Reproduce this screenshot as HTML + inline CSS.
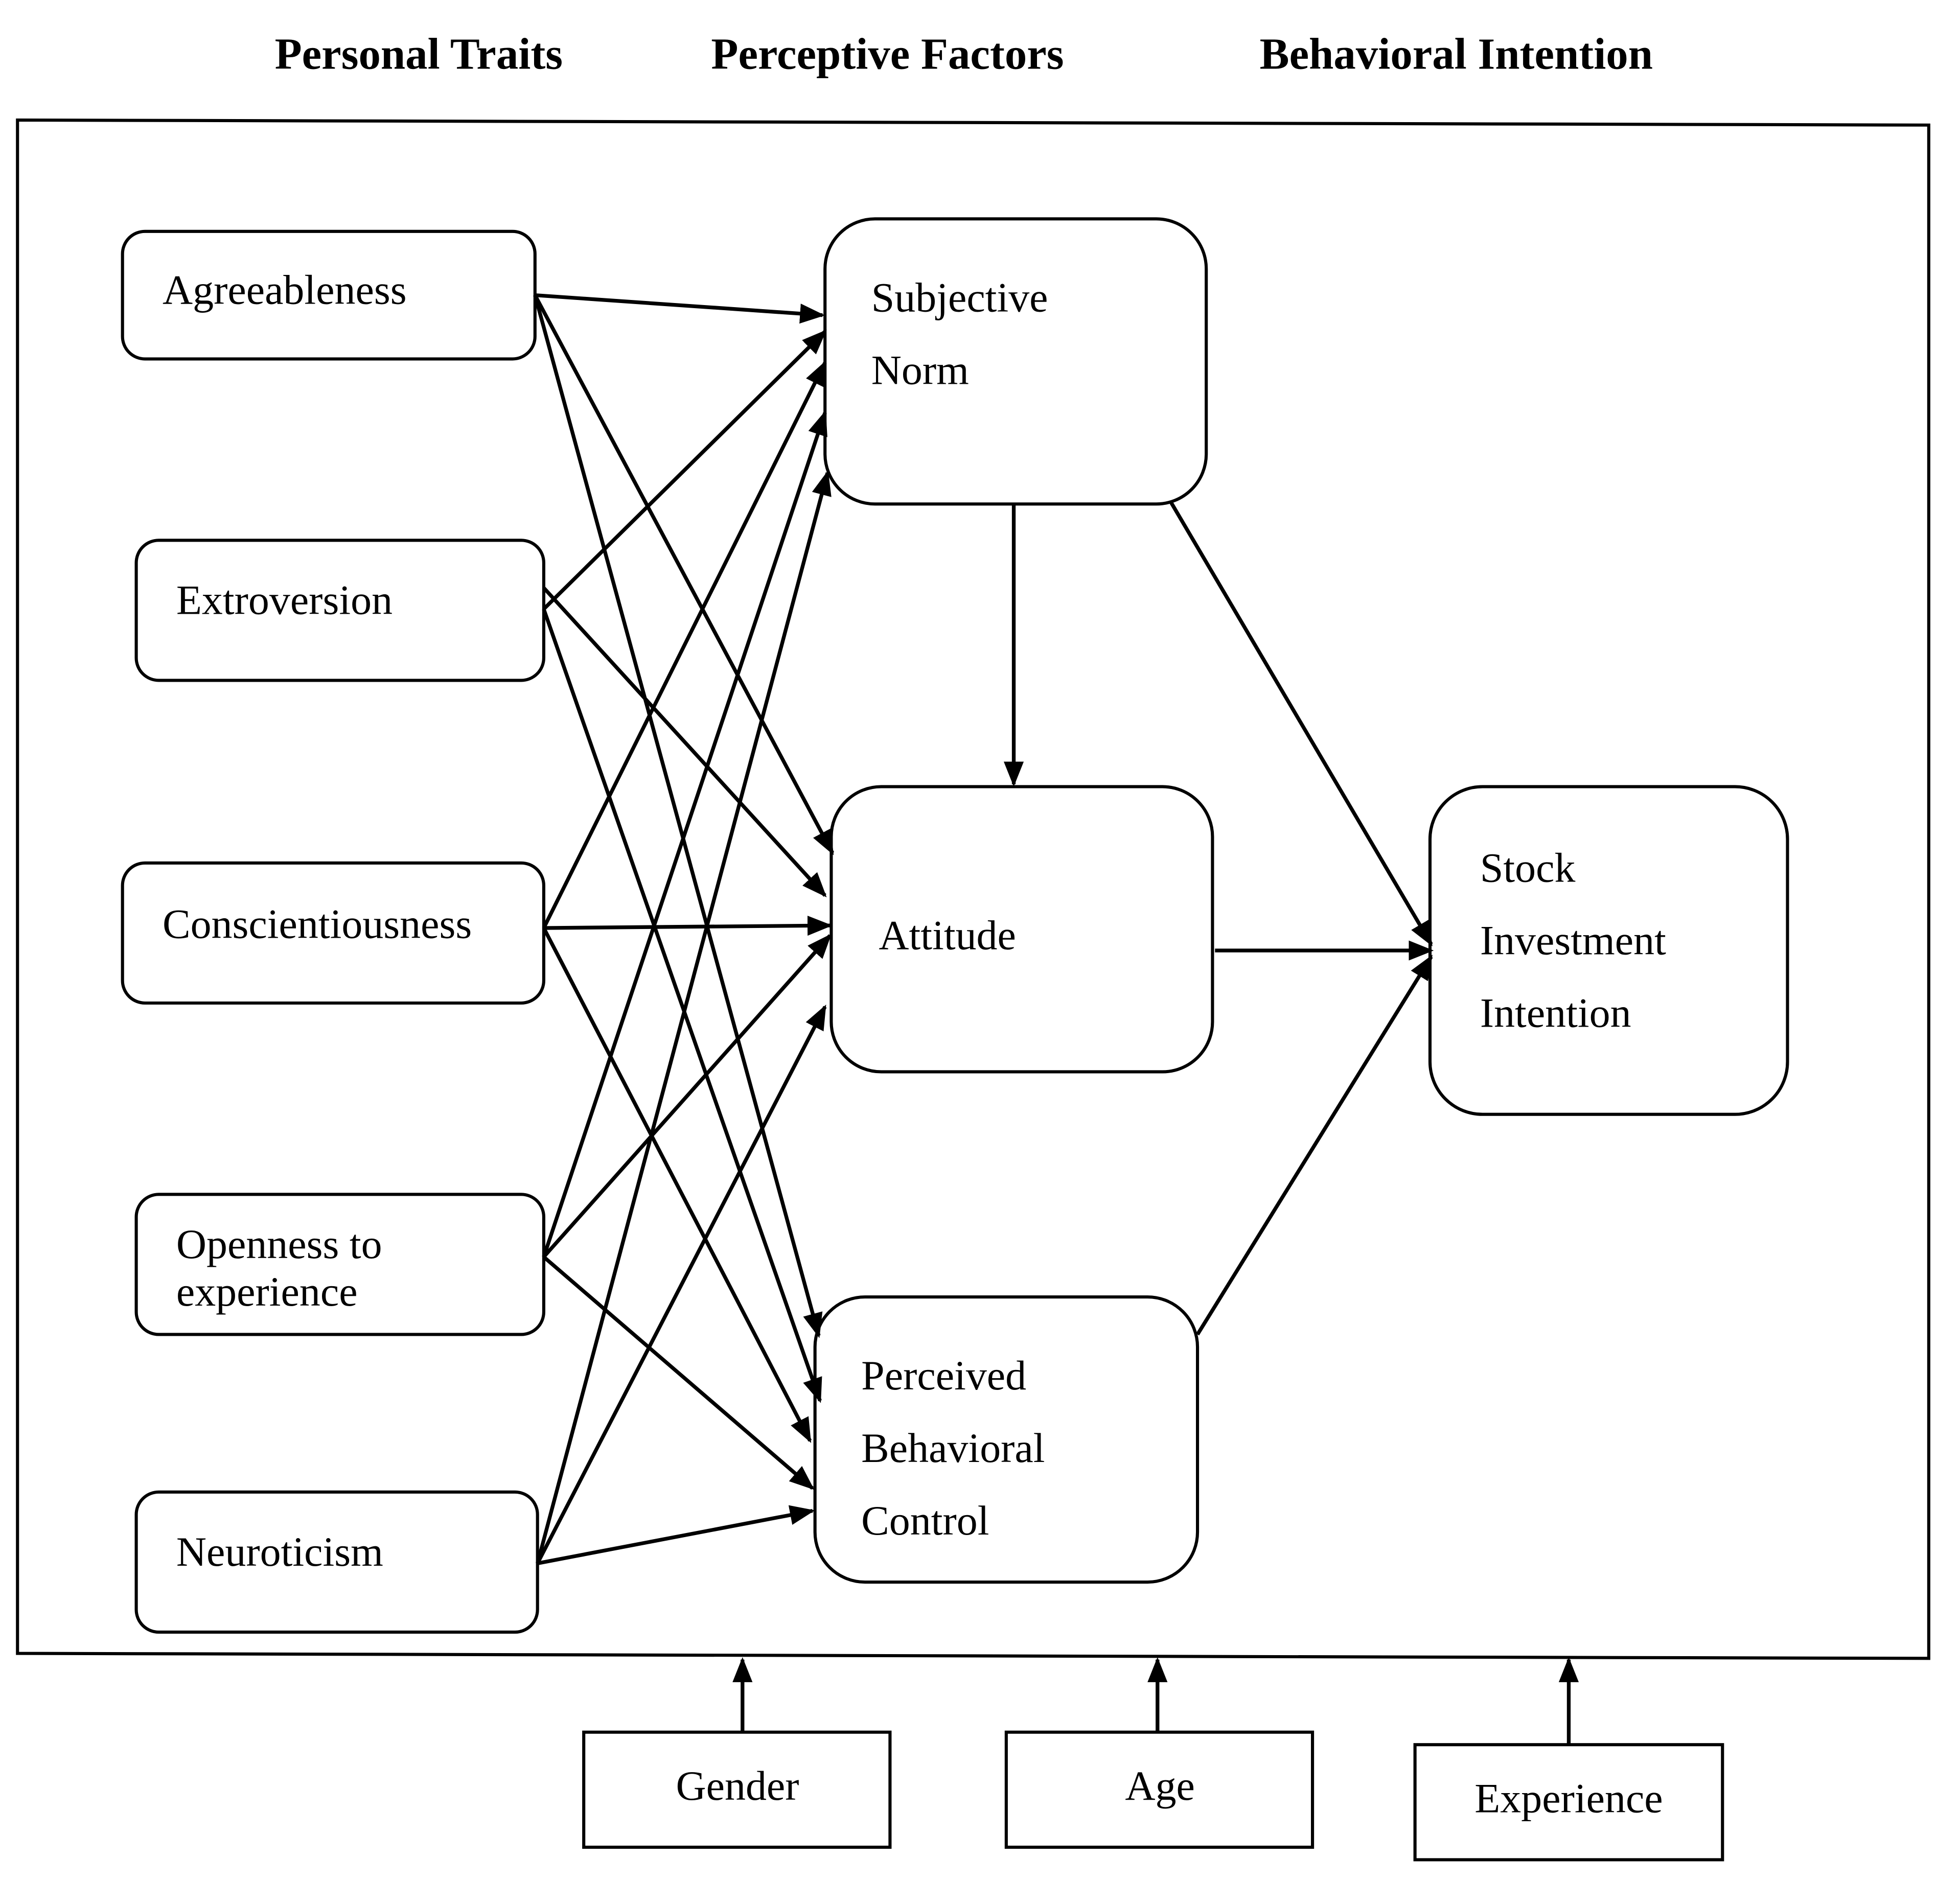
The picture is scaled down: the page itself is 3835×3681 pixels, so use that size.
<!DOCTYPE html>
<html><head><meta charset="utf-8"><style>
html,body{margin:0;padding:0;background:#fff;}
svg{display:block;}
text{font-family:"Liberation Serif",serif;fill:#000;}
</style></head><body>
<svg width="3835" height="3681" viewBox="0 0 1568 1504" preserveAspectRatio="none" xmlns="http://www.w3.org/2000/svg">
<defs>
<marker id="b" markerWidth="20" markerHeight="20" refX="18" refY="10" orient="auto" markerUnits="userSpaceOnUse" viewBox="0 0 20 20">
<path d="M0,2 L20,10 L0,18 z" fill="#000"/></marker>
</defs>
<g font-weight="bold" font-size="35.5" text-anchor="middle">
<text x="335" y="55">Personal Traits</text>
<text x="710" y="55">Perceptive Factors</text>
<text x="1165" y="55">Behavioral Intention</text>
</g>
<polygon points="14,96 1543,100 1543,1326 14,1322" fill="none" stroke="#000" stroke-width="2.5"/>
<g fill="none" stroke="#000" stroke-width="2.5">
<rect x="98" y="185" width="330" height="102" rx="18"/>
<rect x="109" y="432" width="326" height="112" rx="18"/>
<rect x="98" y="690" width="337" height="112" rx="18"/>
<rect x="109" y="955" width="326" height="112" rx="18"/>
<rect x="109" y="1193" width="321" height="112" rx="18"/>
<rect x="660" y="175" width="305" height="228" rx="40"/>
<rect x="665" y="629" width="305" height="228" rx="40"/>
<rect x="652" y="1037" width="306" height="228" rx="40"/>
<rect x="1144" y="629" width="286" height="262" rx="42"/>
<rect x="467" y="1385" width="245" height="92"/>
<rect x="805" y="1385" width="245" height="92"/>
<rect x="1132" y="1395" width="246" height="92"/>
</g>
<g font-size="33.5">
<text x="130" y="243">Agreeableness</text>
<text x="141" y="491">Extroversion</text>
<text x="130" y="750">Conscientiousness</text>
<text x="141" y="1006">Openness to</text>
<text x="141" y="1044">experience</text>
<text x="141" y="1252">Neuroticism</text>
<text x="697" y="249">Subjective</text>
<text x="697" y="307">Norm</text>
<text x="703" y="759">Attitude</text>
<text x="689" y="1111">Perceived</text>
<text x="689" y="1169">Behavioral</text>
<text x="689" y="1227">Control</text>
<text x="1184" y="705">Stock</text>
<text x="1184" y="763">Investment</text>
<text x="1184" y="821">Intention</text>
<text x="590" y="1439" text-anchor="middle">Gender</text>
<text x="928" y="1439" text-anchor="middle">Age</text>
<text x="1255" y="1449" text-anchor="middle">Experience</text>
</g>
<g stroke="#000" stroke-width="3" marker-end="url(#b)">
<line x1="428" y1="236" x2="658" y2="252"/>
<line x1="428" y1="236" x2="666" y2="682"/>
<line x1="428" y1="236" x2="655" y2="1068"/>
<line x1="435" y1="487" x2="660" y2="265"/>
<line x1="435" y1="470" x2="660" y2="716"/>
<line x1="435" y1="487" x2="656" y2="1120"/>
<line x1="435" y1="742" x2="660" y2="290"/>
<line x1="435" y1="742" x2="664" y2="740"/>
<line x1="435" y1="742" x2="648" y2="1152"/>
<line x1="435" y1="1005" x2="660" y2="330"/>
<line x1="435" y1="1005" x2="664" y2="748"/>
<line x1="435" y1="1005" x2="650" y2="1190"/>
<line x1="430" y1="1250" x2="662" y2="378"/>
<line x1="430" y1="1250" x2="660" y2="805"/>
<line x1="430" y1="1250" x2="650" y2="1208"/>
<line x1="811" y1="403" x2="811" y2="627"/>
<line x1="937" y1="402" x2="1145" y2="755"/>
<line x1="972" y1="760" x2="1145" y2="760"/>
<line x1="958" y1="1067" x2="1145" y2="765"/>
<line x1="594" y1="1385" x2="594" y2="1327"/>
<line x1="926" y1="1385" x2="926" y2="1327"/>
<line x1="1255" y1="1395" x2="1255" y2="1327"/>
</g>
</svg>
</body></html>
